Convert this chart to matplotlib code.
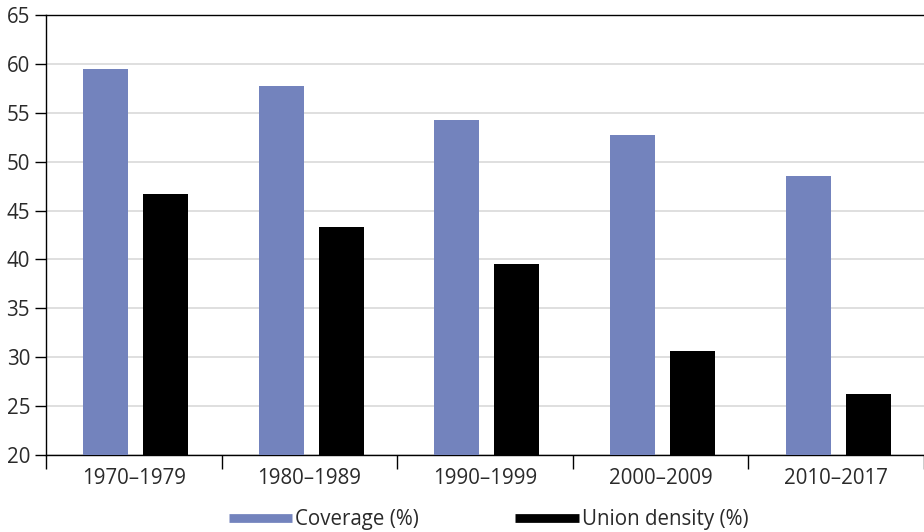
import numpy as np
import matplotlib.pyplot as plt
from matplotlib.lines import Line2D

plt.rcParams['font.family'] = ['Open Sans', 'DejaVu Sans']

# ---- data ----
periods = ['1970–1979', '1980–1989', '1990–1999', '2000–2009', '2010–2017']
coverage = [59.5, 57.7, 54.3, 52.7, 48.5]
union_density = [46.7, 43.3, 39.5, 30.6, 26.2]

cov_color = '#7383BD'
uni_color = '#000000'

fig = plt.figure(figsize=(9.24, 5.32), dpi=100)
ax = fig.add_axes([46 / 924, 1 - 455 / 532, 1 - 46 / 924, (455 - 15) / 532])

x = np.arange(len(periods))
w = 0.256
ax.bar(x - 0.160, coverage, width=w, color=cov_color, zorder=3)
ax.bar(x + 0.182, union_density, width=w, color=uni_color, zorder=3)

ax.set_ylim(20, 65)
ax.set_xlim(-0.5, len(periods) - 0.5)
ax.set_yticks(range(20, 66, 5))
ax.yaxis.grid(True, color='#d9d9d9', linewidth=1.2, zorder=0)
ax.set_axisbelow(True)

ax.set_xticks(x)
ax.set_xticklabels(periods)
ax.set_xticks(np.arange(-0.5, len(periods), 1.0), minor=True)
ax.tick_params(axis='x', which='major', length=0, pad=9, labelsize=14.8, colors='#2a2a2a')
ax.tick_params(axis='x', which='minor', length=10, width=1, direction='out')
ax.tick_params(axis='y', length=8, width=1, direction='out', labelsize=14.8, colors='#2a2a2a')
ax.tick_params(axis='both', which='both', color='black')

for s in ['left', 'bottom', 'top']:
    ax.spines[s].set_color('black')
    ax.spines[s].set_linewidth(1)
ax.spines['right'].set_visible(False)

handles = [Line2D([0], [0], color=cov_color, lw=6.3, solid_capstyle='butt'),
           Line2D([0], [0], color=uni_color, lw=6.3, solid_capstyle='butt')]
fig.legend(handles, ['Coverage (%)', 'Union density (%)'], loc='center',
           bbox_to_anchor=(0.5287, 0.024), ncol=2, frameon=False, fontsize=14.8,
           handlelength=3.07, handletextpad=0.15, columnspacing=4.7,
           labelcolor='#2a2a2a')

fig.savefig('out.png', dpi=100)
